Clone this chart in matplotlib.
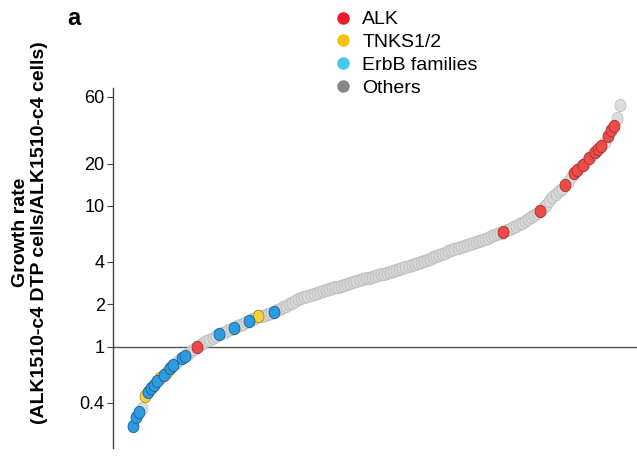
import matplotlib
matplotlib.use("Agg")
import matplotlib.pyplot as plt
from matplotlib.lines import Line2D
from matplotlib.path import Path
import numpy as np

plt.rcParams['font.family'] = ['Liberation Sans', 'DejaVu Sans']

# growth rate of each sgRNA/gene, sorted from low to high
growth = [
    0.271, 0.315, 0.341, 0.365, 0.446, 0.475, 0.505, 0.536, 0.569, 0.599,
    0.629, 0.662, 0.702, 0.743, 0.770, 0.798, 0.826, 0.858, 0.891, 0.926,
    0.963, 0.998, 1.026, 1.057, 1.088, 1.121, 1.154, 1.189, 1.224, 1.251,
    1.277, 1.307, 1.335, 1.364, 1.393, 1.425, 1.456, 1.487, 1.521, 1.559,
    1.598, 1.638, 1.662, 1.690, 1.717, 1.742, 1.771, 1.815, 1.861, 1.906,
    1.956, 2.004, 2.054, 2.110, 2.162, 2.208, 2.240, 2.277, 2.316, 2.353,
    2.392, 2.427, 2.467, 2.508, 2.549, 2.591, 2.634, 2.673, 2.717, 2.762,
    2.807, 2.848, 2.886, 2.928, 2.967, 3.005, 3.050, 3.090, 3.130, 3.180,
    3.220, 3.260, 3.300, 3.350, 3.400, 3.450, 3.500, 3.560, 3.610, 3.670,
    3.730, 3.780, 3.840, 3.900, 3.970, 4.050, 4.130, 4.210, 4.300, 4.380,
    4.470, 4.570, 4.660, 4.750, 4.830, 4.910, 5.000, 5.090, 5.170, 5.260,
    5.340, 5.440, 5.530, 5.620, 5.730, 5.830, 5.950, 6.070, 6.190, 6.310,
    6.440, 6.570, 6.730, 6.890, 7.050, 7.220, 7.390, 7.600, 7.840, 8.090,
    8.340, 8.610, 8.880, 9.160, 9.630, 10.2, 10.8, 11.5, 12.1, 12.7,
    13.2, 14.0, 14.9, 16.0, 17.1, 17.9, 18.8, 19.6, 20.7, 21.9,
    23.1, 24.3, 25.4, 26.6, 28.5, 31.3, 34.4, 37.3, 42.0, 52.0,
]

# positions (rank) of the highlighted groups
alk_idx = [21, 121, 133, 141, 144, 145, 147, 149, 151, 152, 153, 155, 156, 157]
tnks_idx = [4, 9, 11, 41]
erbb_idx = [0, 1, 2, 5, 6, 7, 8, 10, 12, 13, 16, 17, 28, 33, 38, 46]

yticks = [0.4, 1, 2, 4, 10, 20, 60]
ytick_labels = ['0.4', '1', '2', '4', '10', '20', '60']

rank = np.arange(len(growth))
growth = np.array(growth)
highlighted = set(alk_idx) | set(tnks_idx) | set(erbb_idx)
other_idx = [i for i in rank if i not in highlighted]

# slightly tall ellipse marker, like in the figure
circ = Path.unit_circle()
ell = Path(circ.vertices * [0.88, 1.0], circ.codes)
msize = 80

fig = plt.figure(figsize=(6.37, 4.65), dpi=100)
ax = fig.add_axes([0.1774, 0.0366, 0.8226, 0.7742])

ax.axhline(1, color='#555555', lw=1.0, zorder=1)

ax.scatter(rank[other_idx], growth[other_idx], s=msize, marker=ell,
           facecolor='#d8d8d8', edgecolor='#b8b8b8', linewidth=0.6, alpha=0.85, zorder=2)
ax.scatter(rank[tnks_idx], growth[tnks_idx], s=msize, marker=ell,
           facecolor='#f4d03a', edgecolor='#a8891c', linewidth=0.6, zorder=3)
ax.scatter(rank[erbb_idx], growth[erbb_idx], s=msize, marker=ell,
           facecolor='#2d9be0', edgecolor='#1b5d92', linewidth=0.6, zorder=3)
ax.scatter(rank[alk_idx], growth[alk_idx], s=msize, marker=ell,
           facecolor='#ee4a4a', edgecolor='#a63030', linewidth=0.6, zorder=3)

ax.set_yscale('log')
ax.set_ylim(0.19, 69)
ax.set_xlim(-6.5, len(growth) + 4.6)
ax.set_yticks(yticks)
ax.set_yticklabels(ytick_labels)
ax.minorticks_off()
ax.tick_params(axis='y', direction='out', length=4, width=0.8, color='#444444',
               labelsize=13, pad=2)
ax.set_xticks([])
for s in ['top', 'right', 'bottom']:
    ax.spines[s].set_visible(False)
ax.spines['left'].set_color('#444444')
ax.spines['left'].set_linewidth(1.0)

fig.text(0.047, 0.5, 'Growth rate\n(ALK1510-c4 DTP cells/ALK1510-c4 cells)',
         rotation=90, ha='center', va='center', fontsize=14, fontweight='bold',
         multialignment='center')
fig.text(0.105, 0.96, 'a', fontsize=17, fontweight='bold', ha='left', va='center')

handles = [
    Line2D([], [], ls='', marker='o', markersize=8, color='#ee1c25', label='ALK'),
    Line2D([], [], ls='', marker='o', markersize=8, color='#f7c20f', label='TNKS1/2'),
    Line2D([], [], ls='', marker='o', markersize=8, color='#46c8ec', label='ErbB families'),
    Line2D([], [], ls='', marker='o', markersize=8, color='#888888', label='Others'),
]
fig.legend(handles=handles, loc='upper left', bbox_to_anchor=(0.503, 1.006),
           frameon=False, fontsize=14, handlelength=0.9, handletextpad=0.55,
           labelspacing=0.27, borderpad=0.2)

fig.savefig('out.png', dpi=100)
